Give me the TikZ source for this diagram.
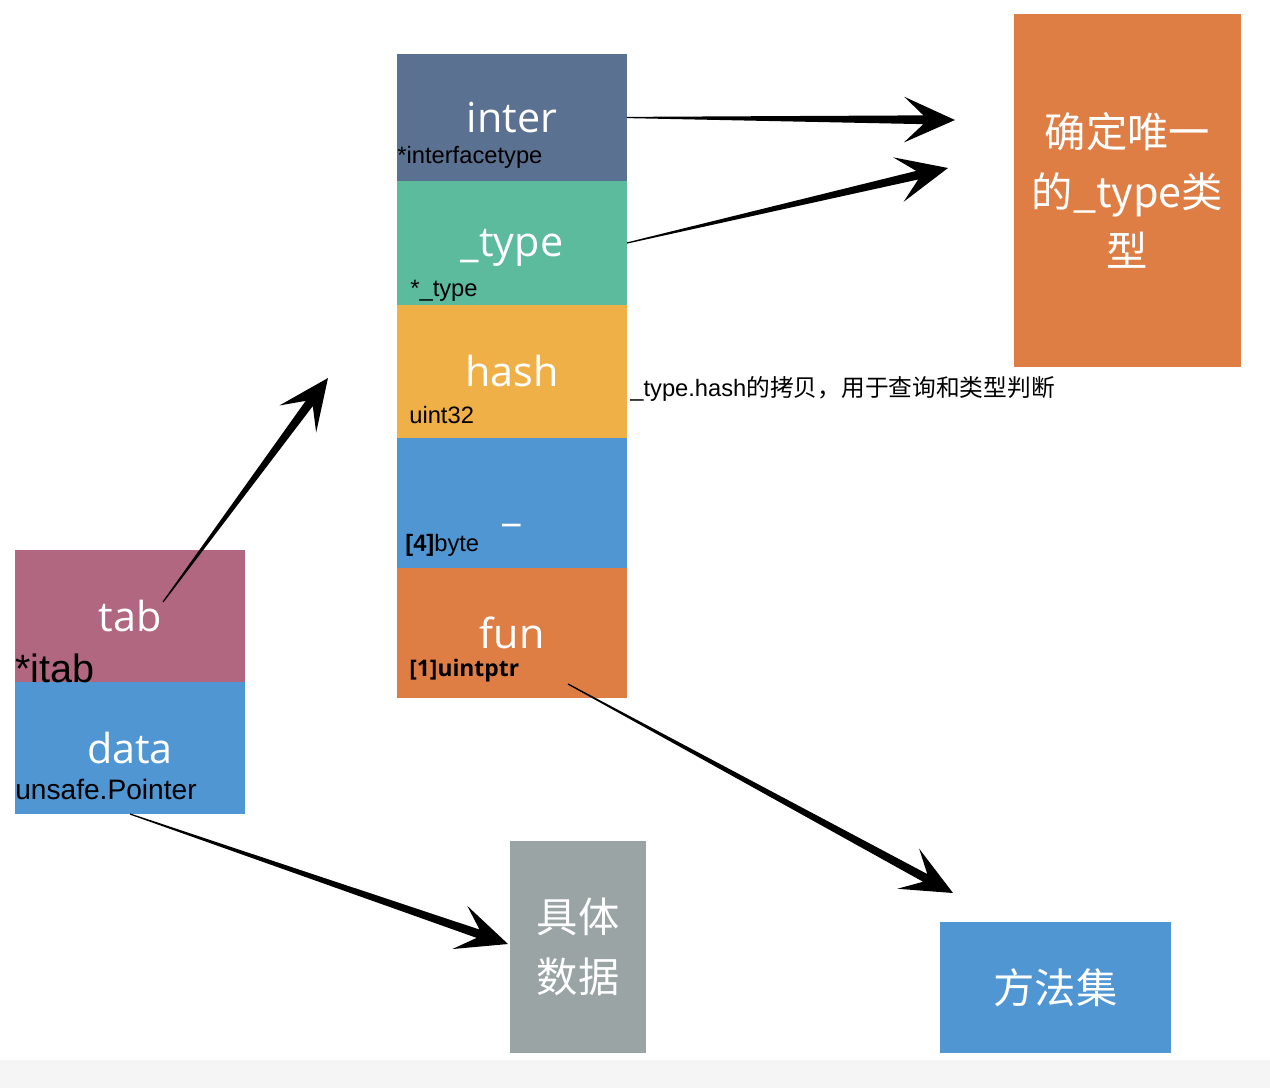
\documentclass[tikz,border=0pt]{standalone}
\usepackage{fontspec}
\setmainfont{Open Sans}
\newfontfamily\cjk{Noto Sans CJK SC}
\newfontfamily\lib{Liberation Sans}
\usetikzlibrary{calc}

\definecolor{slate}{HTML}{5A7191}
\definecolor{teal}{HTML}{5CBA9D}
\definecolor{amber}{HTML}{F0B048}
\definecolor{sky}{HTML}{5096D2}
\definecolor{rust}{HTML}{DE7E45}
\definecolor{mauve}{HTML}{B1677F}
\definecolor{stone}{HTML}{9AA4A4}

% tapered arrow: thin at #1, stealth head at #2
\newcommand{\taperarrow}[2]{%
  \coordinate (ta-n) at ($(#2)!18pt!(#1)$);
  \coordinate (ta-b) at ($(#2)!29pt!(#1)$);
  \fill[black] ($(#1)!0.35pt!90:(#2)$) -- ($(ta-n)!2.5pt!90:(#2)$)
    -- ($(ta-b)!13pt!90:(#2)$) -- (#2) -- ($(ta-b)!13pt!-90:(#2)$)
    -- ($(ta-n)!2.5pt!-90:(#2)$) -- ($(#1)!0.35pt!-90:(#2)$) -- cycle;
}

\begin{document}
\begin{tikzpicture}[
    x=0.02cm, y=-0.02cm,
    field/.style={fill=#1, inner sep=0pt, outer sep=0pt, minimum width=4.6cm,
      text=white, font=\fontsize{23.5}{28}\selectfont},
    note/.style={anchor=base west, inner sep=0pt, font=\lib\fontsize{13.5}{16}\selectfont},
    cjkbox/.style={fill=#1, inner sep=0pt, outer sep=0pt, text=white, align=center,
      font=\cjk\fontsize{23.5}{34}\selectfont}
]
    \useasboundingbox (0,0) rectangle (1270,1088);
    \fill[white] (0,0) rectangle (1270,1088);
    \fill[black!4] (0,1060) rectangle (1270,1088);

    % itab column
    \node[field=slate, minimum height=2.54cm] (inter) at (512,117.5) {inter};
    \node[field=teal, minimum height=2.48cm, text depth=0pt] (typ) at (512,243) {\_type};
    \node[field=amber, minimum height=2.66cm] (hash) at (512,371.5) {hash};
    \node[field=sky, minimum height=2.6cm] (pad) at (512,503) {};
    \node[text=white, inner sep=0pt, font=\fontsize{23.5}{28}\selectfont] (padname) at (512,524) {\_};
    \node[field=rust, minimum height=2.6cm] (fun) at (512,633) {fun};

    \node[note] (intertype) at (397,163) {*interfacetype};
    \node[note] (typtype) at (410,296) {*\_type};
    \node[note] (hashtype) at (409,423) {uint32};
    \node[note] (padtype) at (405,551) {\textbf{[4]}byte};
    \node[note, font=\bfseries\fontsize{13}{16}\selectfont] (funtype) at (409,676) {[1]uintptr};
    \node[note] (hashnote) at (630,396) {\_type.hash{\cjk 的拷贝，用于查询和类型判断}};

    % iface
    \node[field=mauve, minimum height=2.64cm] (tab) at (130,616) {tab};
    \node[field=sky, minimum height=2.64cm] (data) at (130,748) {data};
    \node[note, font=\lib\fontsize{22.5}{24}\selectfont] (tabtype) at (15,682) {*itab};
    \node[note, font=\lib\fontsize{16}{20}\selectfont] (datatype) at (15,799) {unsafe.Pointer};

    % targets
    \node[cjkbox=rust, minimum width=4.54cm, minimum height=7.06cm] (uniq) at (1127.5,190.5) {确定唯一\\的\_type类\\型};
    \node[cjkbox=stone, minimum width=2.72cm, minimum height=4.24cm] (concrete) at (578,947) {具体\\数据};
    \node[cjkbox=sky, minimum width=4.62cm, minimum height=2.62cm] (methods) at (1055.5,987.5) {方法集};

    % arrows
    \coordinate (uniqin1) at (955,120);
    \coordinate (uniqin2) at (948,168);
    \coordinate (tabout) at (163,602);
    \coordinate (colin) at (328,378);
    \coordinate (concretein) at (508,944);
    \coordinate (funout) at (568,684);
    \coordinate (methodsin) at (953,893);

    \taperarrow{inter.east}{uniqin1}
    \taperarrow{typ.east}{uniqin2}
    \taperarrow{tabout}{colin}
    \taperarrow{data.south}{concretein}
    \taperarrow{funout}{methodsin}
\end{tikzpicture}
\end{document}
